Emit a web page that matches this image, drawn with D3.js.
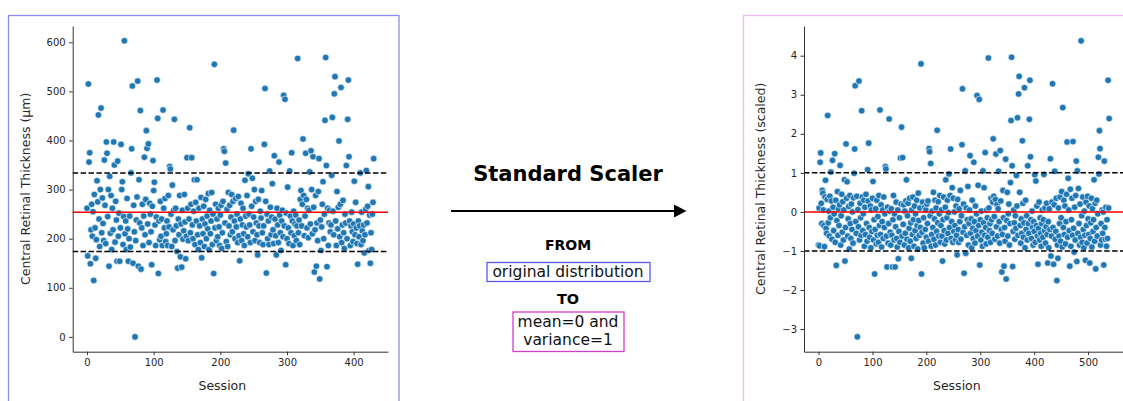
<!DOCTYPE html>
<html>
<head>
<meta charset="utf-8">
<script src="https://cdn.jsdelivr.net/npm/d3@7"></script>
<style>
  html, body { margin: 0; padding: 0; background: #fff; }
  svg { display: block; font-family: "DejaVu Sans", sans-serif; }
</style>
</head>
<body>
<svg id="fig" width="1123" height="401"></svg>
<script>
// Central retinal thickness (µm) per session, sessions 0..430
const thicknessRaw = [
  262,165,515,356,375,149,218,270,205,255,
  115,290,222,160,198,318,275,452,240,184,
  300,466,212,283,231,196,360,268,190,397,
  374,245,300,144,327,211,288,178,262,218,
  397,350,193,276,238,154,358,205,252,154,
  222,392,300,316,188,245,603,210,236,178,
  282,220,154,200,246,183,334,383,511,150,
  268,214,0,196,238,285,521,144,320,232,
  461,138,222,270,186,246,366,208,280,420,
  384,230,393,192,272,250,214,147,266,359,
  298,315,228,186,244,523,445,129,236,198,
  276,205,240,186,462,262,222,282,194,210,
  236,186,288,224,347,342,250,184,309,218,
  258,443,196,262,226,174,140,240,208,288,
  163,230,142,258,199,216,290,234,159,205,
  365,262,196,240,426,212,270,365,228,200,
  256,320,188,274,236,320,208,178,262,226,
  192,284,161,240,210,266,184,230,280,200,
  246,220,292,178,258,210,236,294,188,250,
  129,555,222,270,196,240,204,262,224,186,
  248,268,180,212,276,383,378,232,354,194,
  260,184,294,226,268,208,244,290,214,276,
  421,236,200,282,224,250,192,286,206,155,
  240,272,196,228,262,210,186,319,246,224,
  288,204,332,250,228,192,383,266,323,214,
  244,300,196,276,232,208,167,280,226,192,
  256,242,298,212,188,226,392,506,276,130,
  250,200,236,188,338,264,208,244,312,218,
  190,369,240,206,167,262,228,192,356,248,
  212,176,236,258,204,492,226,484,147,252,
  200,305,222,190,338,246,212,375,236,186,
  256,206,230,248,196,226,567,212,238,188,
  280,298,226,270,403,288,206,246,374,280,
  222,262,202,258,336,230,379,300,210,367,
  264,132,218,288,144,232,196,296,363,118,
  238,176,224,270,316,200,250,441,569,349,
  143,262,186,232,258,214,228,329,447,256,
  208,495,530,236,186,296,220,264,399,204,
  270,508,192,228,278,212,180,250,232,349,
  200,443,523,367,236,186,226,254,214,194,
  230,317,208,274,222,190,148,236,204,226,
  334,188,254,216,196,228,171,208,260,339,
  232,266,306,176,248,150,212,178,250,274,363
];

// Same measurement after standard scaling, sessions 0..539
const thicknessScaled = [
  -0.85,0.10,-0.87,1.27,1.51,0.22,-0.30,0.55,0.48,0.05,
  -0.35,-0.89,0.38,0.81,-0.42,-0.55,0.32,2.47,-0.28,0.02,
  -0.62,0.40,-0.15,1.02,0.28,-0.70,1.32,0.12,-0.48,-0.05,
  1.49,-0.78,0.30,-1.37,-0.22,0.52,-0.60,0.08,-0.35,0.18,
  1.19,-0.85,-0.10,0.45,-0.52,0.26,-0.72,0.05,0.82,-1.26,
  -0.40,1.74,0.35,0.77,-0.62,-0.18,0.14,-0.95,0.42,-0.30,
  -0.68,0.20,-0.45,0.00,-0.80,0.36,0.99,1.61,3.23,-0.25,
  -0.55,0.40,-3.20,0.06,-0.38,3.35,-0.72,0.22,-0.15,-0.60,
  2.59,0.38,-0.48,-0.05,0.30,-0.88,0.12,-0.58,0.45,-0.30,
  -0.75,1.08,0.28,1.76,-0.40,-0.65,0.15,-0.92,0.05,-0.50,
  0.35,0.78,-0.72,-0.20,-1.59,-0.45,0.08,-0.82,0.30,-0.60,
  -0.12,-0.78,0.42,-0.35,2.61,-0.58,0.18,-0.90,-0.25,0.05,
  -0.68,0.38,-0.40,-0.05,1.16,1.10,-0.62,-1.41,0.12,-0.80,
  -0.30,2.38,0.02,-0.52,-0.85,0.08,-0.60,-1.41,-0.20,0.42,
  -0.72,-0.05,-1.41,-0.38,0.25,-0.68,-0.90,0.05,-1.20,-0.50,
  -0.15,-0.78,1.38,0.20,2.17,-0.62,1.39,-0.32,0.18,-0.85,
  0.02,-0.55,0.28,0.82,-0.70,-0.10,0.22,-0.92,-0.42,0.35,
  -0.75,-0.28,-1.19,0.05,-0.58,0.38,-0.20,-0.88,0.15,-0.48,
  -0.05,-0.68,0.30,-0.35,-0.95,0.48,-0.22,-0.60,0.10,-0.40,
  3.79,-1.59,-0.52,0.25,-0.80,-0.15,-0.92,0.12,-0.45,0.05,
  -0.65,0.20,-0.30,0.28,-0.75,1.62,1.54,-0.10,1.24,-0.88,
  -0.58,0.02,-0.40,0.50,-0.70,-0.18,0.30,-0.85,0.10,-0.50,
  2.09,-0.28,0.26,-0.62,-0.05,0.42,-0.78,-0.35,0.05,-0.62,
  -1.26,-0.20,0.38,-0.48,-0.82,0.12,0.82,-0.72,-0.15,0.30,
  -0.55,-0.02,0.97,-0.40,0.42,1.61,-0.68,-0.25,0.62,-0.78,
  0.35,-0.50,0.00,-0.35,-0.72,0.15,-0.60,-1.10,0.32,-0.45,
  -0.78,0.08,-0.25,0.55,-0.70,-0.10,1.72,3.15,-0.52,0.20,
  -1.57,-0.38,1.05,-1.06,0.10,-0.60,-0.20,0.65,-0.85,-0.30,
  0.05,1.44,-0.55,-0.18,-0.92,0.30,-0.42,-0.68,1.27,-0.25,
  -0.80,0.15,-0.48,-0.05,2.98,-0.62,0.68,-0.35,2.88,-1.36,
  -0.20,-0.72,0.02,-0.52,-0.88,1.05,-0.28,0.62,-0.60,1.52,
  -0.40,-0.82,0.05,-0.15,-0.65,3.94,0.10,-0.48,-0.30,-0.78,
  0.35,-0.20,-0.55,0.25,1.87,0.40,-0.12,-0.70,0.32,1.48,
  -0.38,0.18,-0.62,0.08,1.04,-0.25,-0.80,1.57,0.28,-0.45,
  -1.54,-0.58,0.55,-0.15,-1.39,-0.40,-0.75,1.35,-1.72,-0.22,
  0.50,-0.62,-0.05,0.20,-0.85,-0.30,0.75,2.34,3.96,1.18,
  -1.40,-0.50,0.05,-0.28,-0.70,-0.10,-0.42,0.93,0.15,2.41,
  -0.60,3.02,3.47,0.50,-0.35,-0.80,-0.18,-0.55,1.82,0.22,
  -0.65,-0.28,3.18,-0.92,0.30,-0.45,-0.10,-0.72,1.18,-0.30,
  -0.55,2.37,3.37,1.41,-0.20,-0.68,0.02,-0.40,-0.85,-0.25,
  -0.50,0.95,-0.78,0.79,-0.35,0.15,-0.62,-1.34,-0.42,0.25,
  -0.72,-0.15,-0.55,-0.88,-0.30,0.05,-0.65,-0.20,0.96,-0.48,
  0.10,-0.80,-0.38,0.22,-0.58,-1.31,-0.25,-0.92,0.08,-0.45,
  1.36,-1.13,-0.62,0.25,3.28,-0.40,-1.34,0.18,1.04,-0.70,
  -0.50,0.35,-1.76,-0.85,-1.19,0.10,-0.62,-0.30,0.38,-0.75,
  -0.15,0.52,-0.90,2.67,-0.40,0.30,-0.58,0.15,-0.82,-0.25,
  0.45,1.79,-0.65,0.86,0.05,-0.48,-1.39,0.58,-0.88,-0.20,
  0.35,-0.60,1.80,-0.42,-1.03,0.12,-0.72,0.42,1.30,-1.27,
  1.05,-0.55,0.60,-0.30,-0.85,0.20,-0.65,4.38,-0.10,-0.78,
  0.38,-0.45,-0.92,0.02,-0.60,-1.24,0.25,-0.35,-0.80,0.40,
  -0.18,-0.58,0.15,-1.31,-0.68,-0.28,0.35,-0.90,0.08,-0.50,
  -0.20,0.82,-0.75,0.22,-1.46,-0.40,0.30,-0.62,-0.05,1.40,
  0.97,2.08,1.62,-0.85,-0.30,-0.72,0.05,-0.55,0.00,-1.36,
  1.30,-0.40,-0.70,0.12,-0.88,-0.20,-0.68,3.37,0.10,2.39
];

// Reference lines: mean and mean ± one standard deviation
const rawMean = 254, rawSd = 80;
const scaledMean = 0, scaledSd = 1;

// Tick values
const rawYTicks = [0, 100, 200, 300, 400, 500, 600];
const rawXTicks = [0, 100, 200, 300, 400];
const scaledYTicks = [-3, -2, -1, 0, 1, 2, 3, 4];
const scaledXTicks = [0, 100, 200, 300, 400, 500];

// Text
const rawYLabel = "Central Retinal Thickness (µm)";
const scaledYLabel = "Central Retinal Thickness (scaled)";
const xLabel = "Session";
const transformTitle = "Standard Scaler";
const fromLabel = "FROM", fromText = "original distribution";
const toLabel = "TO", toLines = ["mean=0 and", "variance=1"];

const svg = d3.select("#fig");
const dotColor = "#1f77b4";

// Panel frames
svg.append("rect").attr("x", 8.5).attr("y", 15.5).attr("width", 390.5).attr("height", 400)
  .attr("fill", "none").attr("stroke", "#8c8cf0").attr("stroke-width", 1.3);
svg.append("rect").attr("x", 743.5).attr("y", 15.5).attr("width", 400).attr("height", 400)
  .attr("fill", "none").attr("stroke", "#f0b8f0").attr("stroke-width", 1.3);

function drawPanel(opts) {
  const g = svg.append("g");
  const x = d3.scaleLinear().domain(opts.xDomain).range(opts.xRange);
  const y = d3.scaleLinear().domain(opts.yDomain).range(opts.yRange);
  const [x0, x1] = opts.xRange, [yb, yt] = opts.yRange;

  // scatter
  g.append("g").selectAll("circle")
    .data(opts.values.map((v, i) => [i, v]))
    .join("circle")
    .attr("cx", d => x(d[0]))
    .attr("cy", d => y(d[1]))
    .attr("r", 3.3)
    .attr("fill", dotColor)
    .attr("stroke", "#ffffff")
    .attr("stroke-width", 0.6);

  // mean and ±1 sd lines
  g.append("line").attr("x1", x0).attr("x2", x1)
    .attr("y1", y(opts.mean)).attr("y2", y(opts.mean))
    .attr("stroke", "#ff0000").attr("stroke-width", 1.5);
  [opts.mean + opts.sd, opts.mean - opts.sd].forEach(v => {
    g.append("line").attr("x1", x0).attr("x2", x1)
      .attr("y1", y(v)).attr("y2", y(v))
      .attr("stroke", "#000").attr("stroke-width", 1.5)
      .attr("stroke-dasharray", "5.5,2.4");
  });

  // axes (left and bottom spines only)
  const yAxis = g.append("g").attr("transform", `translate(${x0},0)`)
    .call(d3.axisLeft(y).tickValues(opts.yTicks).tickSize(3.5).tickPadding(3.5).tickSizeOuter(0));
  const xAxis = g.append("g").attr("transform", `translate(0,${yb})`)
    .call(d3.axisBottom(x).tickValues(opts.xTicks).tickSize(3.5).tickPadding(3.5).tickSizeOuter(0));
  [yAxis, xAxis].forEach(a => {
    a.select(".domain").attr("stroke", "#333").attr("stroke-width", 1);
    a.selectAll(".tick line").attr("stroke", "#333").attr("stroke-width", 1);
    a.selectAll(".tick text").attr("fill", "#262626")
      .style("font-family", "DejaVu Sans").style("font-size", "10px");
  });

  // axis titles
  g.append("text")
    .attr("transform", `translate(${opts.yLabelX},${(yb + yt) / 2}) rotate(-90)`)
    .attr("text-anchor", "middle")
    .attr("fill", "#262626")
    .style("font-size", "12.5px")
    .text(opts.yLabel);
  g.append("text")
    .attr("x", (x0 + x1) / 2 + opts.xLabelShift)
    .attr("y", 389.5)
    .attr("text-anchor", "middle")
    .attr("fill", "#262626")
    .style("font-size", "12.5px")
    .text(xLabel);
}

drawPanel({
  values: thicknessRaw,
  xDomain: [-21.5, 451.5], xRange: [72.7, 388],
  yDomain: [-30.15, 633.15], yRange: [351.7, 26],
  xTicks: rawXTicks, yTicks: rawYTicks,
  mean: rawMean, sd: rawSd,
  yLabel: rawYLabel, yLabelX: 29.5, xLabelShift: -8
});

drawPanel({
  values: thicknessScaled,
  xDomain: [-26.95, 565.95], xRange: [804, 1123.7],
  yDomain: [-3.58, 4.76], yRange: [351.7, 26],
  xTicks: scaledXTicks, yTicks: scaledYTicks,
  mean: scaledMean, sd: scaledSd,
  yLabel: scaledYLabel, yLabelX: 765, xLabelShift: -7
});

// Transformation annotation between the panels
const mid = svg.append("g");
const cx = 568;
mid.append("text").attr("x", cx).attr("y", 181).attr("text-anchor", "middle")
  .style("font-size", "21px").style("font-weight", "bold").attr("fill", "#000")
  .text(transformTitle);

mid.append("line").attr("x1", 451).attr("x2", 676).attr("y1", 211).attr("y2", 211)
  .attr("stroke", "#000").attr("stroke-width", 2);
mid.append("path").attr("d", "M674,204.5 L686.5,211 L674,217.5 Z").attr("fill", "#000");

mid.append("text").attr("x", cx).attr("y", 249.5).attr("text-anchor", "middle")
  .style("font-size", "14px").style("font-weight", "bold").attr("fill", "#000")
  .text(fromLabel);

mid.append("rect").attr("x", 487).attr("y", 262.5).attr("width", 163).attr("height", 19)
  .attr("fill", "none").attr("stroke", "#5a5ae6").attr("stroke-width", 1.3);
mid.append("text").attr("x", cx).attr("y", 277).attr("text-anchor", "middle")
  .style("font-size", "15.5px").attr("fill", "#111")
  .text(fromText);

mid.append("text").attr("x", cx).attr("y", 304).attr("text-anchor", "middle")
  .style("font-size", "14.5px").style("font-weight", "bold").attr("fill", "#000")
  .text(toLabel);

mid.append("rect").attr("x", 513).attr("y", 312).attr("width", 111).attr("height", 39.5)
  .attr("fill", "none").attr("stroke", "#d03cd0").attr("stroke-width", 1.3);
toLines.forEach((t, i) => {
  mid.append("text").attr("x", cx).attr("y", 327 + i * 17.5).attr("text-anchor", "middle")
    .style("font-size", "15.5px").attr("fill", "#111")
    .text(t);
});
</script>
</body>
</html>
